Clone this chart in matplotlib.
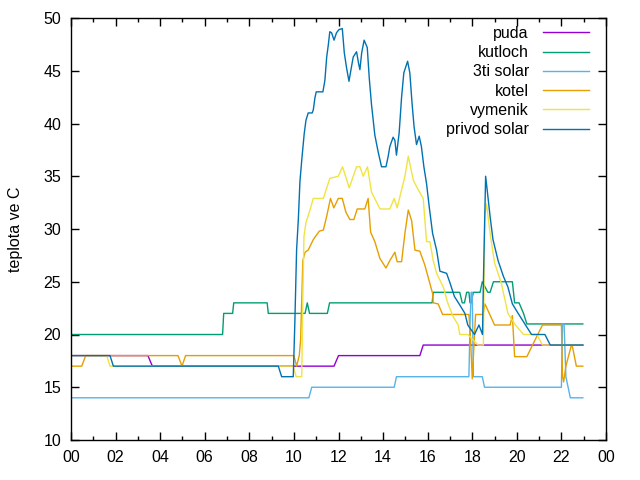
import matplotlib
matplotlib.use("Agg")
import matplotlib.pyplot as plt
from matplotlib.ticker import MultipleLocator, FuncFormatter

plt.rcParams['font.family'] = ['Liberation Sans', 'DejaVu Sans']

# cas v hodinach, teplota ve C
puda_t = [0, 3.45, 3.65, 11.8, 12.0, 15.65, 15.8, 22.96]
puda = [18, 18, 17, 17, 18, 18, 19, 19]

kutloch_t = [0, 6.8, 6.85, 7.25, 7.3, 8.8, 8.85, 10.5, 10.6, 10.7, 11.5, 11.6, 16.2, 16.25,
             17.44, 17.55, 17.65, 17.75, 17.85, 17.9, 17.95, 18.05, 18.35, 18.45, 18.7, 18.8,
             18.95, 19.8, 19.9, 20.1, 20.3, 20.45, 22.96]
kutloch = [20, 20, 22, 22, 23, 23, 22, 22, 23, 22, 22, 23, 23, 24,
           24, 23, 23, 24, 24, 23, 23, 24, 24, 25, 24, 24,
           25, 25, 23, 23, 22, 21, 21]

solar3_t = [0, 10.67, 10.8, 14.5, 14.6, 17.85, 17.9, 17.95, 18.0, 18.05, 18.45, 18.55,
            22.0, 22.05, 22.12, 22.2, 22.3, 22.4, 22.96]
solar3 = [14, 14, 15, 15, 16, 16, 21, 24, 24, 16, 16, 15,
          15, 21, 21, 16, 15, 14, 14]

kotel_t = [0, 0.48, 0.66, 4.8, 4.98, 5.14, 10.0, 10.12, 10.24, 10.3, 10.4, 10.5, 10.64,
           10.87, 11.14, 11.32, 11.47, 11.64, 11.79, 11.99, 12.17, 12.33, 12.51, 12.69,
           12.84, 13.18, 13.33, 13.44, 13.63, 13.86, 14.13, 14.3, 14.53, 14.63, 14.83,
           14.98, 15.13, 15.28, 15.43, 15.65, 15.87, 16.0, 16.22, 16.25, 16.47, 16.67,
           17.85, 17.92, 18.0, 18.15, 18.48, 18.57, 19.0, 19.7, 19.8, 19.9, 20.45, 20.75,
           21.15, 22.0, 22.05, 22.1, 22.2, 22.45, 22.5, 22.67, 22.96]
kotel = [17, 17, 18, 18, 17, 18, 18, 17, 18, 19.5, 27, 27.8, 28,
         29, 29.8, 29.9, 31.2, 32.9, 32, 32.9, 32.9, 31.6, 30.9, 30.9,
         31.9, 31.9, 32.9, 29.7, 28.8, 27.2, 26.3, 27, 27.8, 26.9, 26.9,
         29.6, 31.8, 30.8, 28, 27.9, 26.6, 25.6, 23.9, 23, 22.9, 21.9,
         21.9, 19.8, 15.8, 21.9, 21.9, 22.9, 20.9, 20.9, 21.8, 17.9, 17.9, 19.2,
         20.9, 20.9, 16, 15.5, 17, 19, 18.8, 17, 17]

vymenik_t = [0, 1.6, 1.75, 9.97, 10.1, 10.35, 10.4, 10.45, 10.54, 10.72, 10.87, 11.32,
             11.61, 11.99, 12.18, 12.48, 12.81, 12.96, 13.11, 13.3, 13.48, 13.86, 14.3,
             14.5, 14.63, 14.98, 15.13, 15.36, 15.58, 15.8, 15.95, 16.1, 16.25, 16.4,
             16.7, 16.9, 17.14, 17.37, 17.44, 17.8, 18.26, 18.5, 18.56, 18.64, 18.8,
             19.0, 19.3, 19.6, 19.9, 20.3, 20.9, 21.15, 22.96]
vymenik = [18, 18, 17, 17, 16, 16, 23.3, 29.3, 30.6, 31.8, 32.9, 32.9,
           34.8, 35, 35.9, 33.9, 35.9, 35.9, 35, 35.9, 33.5, 31.9, 31.9,
           32.9, 32, 35, 36.9, 34.6, 33.7, 32.9, 28.8, 28.8, 27, 25.8,
           24.5, 23, 21.7, 20.9, 20, 20, 19, 19, 31.2, 32.4, 29.6,
           26.8, 24.9, 22, 21, 20, 20, 19, 19]

privod_t = [0, 1.75, 1.9, 9.3, 9.45, 9.97, 10.04, 10.12, 10.2, 10.27, 10.35, 10.46, 10.54,
            10.64, 10.82, 10.87, 10.94, 11.0, 11.3, 11.39, 11.47, 11.54, 11.61, 11.69,
            11.8, 11.91, 12.02, 12.17, 12.26, 12.36, 12.47, 12.56, 12.66, 12.81, 12.9,
            12.96, 13.04, 13.15, 13.29, 13.38, 13.48, 13.63, 13.78, 13.93, 14.13, 14.23,
            14.3, 14.45, 14.53, 14.6, 14.72, 14.83, 14.93, 15.1, 15.2, 15.3, 15.39, 15.5,
            15.62, 15.72, 15.83, 15.95, 16.07, 16.22, 16.4, 16.55, 16.85, 17.0, 17.2,
            17.44, 17.67, 17.8, 18.1, 18.3, 18.46, 18.5, 18.6, 18.67, 18.8, 18.93, 19.16,
            19.4, 19.6, 19.8, 20.06, 20.36, 20.66, 21.26, 21.5, 22.96]
privod = [18, 18, 17, 17, 16, 16, 21, 28, 31, 34.5, 36.5, 39, 40.3,
          41, 41, 41.3, 42.4, 43, 43, 44.1, 46.3, 47.4, 48.7, 48.6,
          47.9, 48.6, 48.9, 49, 46.7, 45.3, 44, 45.1, 46.3, 46.8, 45.7,
          45.1, 46.7, 47.9, 47.2, 44.3, 41.8, 38.9, 37.3, 35.9, 35.9, 36.9,
          37.8, 38.7, 38.4, 37, 39.1, 42.5, 44.8, 45.9, 44.8, 41.9, 39.7, 38,
          38.8, 37.8, 35.9, 34.3, 32.1, 29.6, 28, 26, 25.8, 24.9, 23.6,
          22.8, 22, 20.9, 20, 20.9, 20, 25, 35, 33.7, 31.2, 29, 27,
          25.5, 24.5, 22.9, 22, 21, 20, 20, 19, 19]

series = [
    ('puda', puda_t, puda, '#9400d3'),
    ('kutloch', kutloch_t, kutloch, '#009e73'),
    ('3ti solar', solar3_t, solar3, '#56b4e9'),
    ('kotel', kotel_t, kotel, '#e69f00'),
    ('vymenik', vymenik_t, vymenik, '#f0e442'),
    ('privod solar', privod_t, privod, '#0072b2'),
]

fig = plt.figure(figsize=(6.4, 4.8), dpi=100)
ax = fig.add_axes([71 / 640, 40 / 480, 535 / 640, 422 / 480])

for name, t, v, col in series:
    ax.plot(t, v, color=col, lw=1.0, label=name)

ax.set_xlim(0, 24)
ax.set_ylim(10, 50)
ax.xaxis.set_major_locator(MultipleLocator(2))
ax.xaxis.set_minor_locator(MultipleLocator(1))
ax.yaxis.set_major_locator(MultipleLocator(5))
ax.xaxis.set_major_formatter(FuncFormatter(lambda x, pos: f'{int(round(x)) % 24:02d}'))
ax.tick_params(which='both', direction='in', top=True, right=True, labelsize=11.5, width=1)
ax.tick_params(which='major', length=6, pad=7)
ax.tick_params(which='minor', length=3)
for s in ax.spines.values():
    s.set_linewidth(1)
ax.set_ylabel('teplota ve C', fontsize=11.5, labelpad=15)

ax.legend(loc='upper right', frameon=False, markerfirst=False, fontsize=11.5,
          handlelength=2.9, handletextpad=0.9, labelspacing=0.27,
          borderaxespad=0.3, bbox_to_anchor=(0.99, 1.008))

fig.savefig('out.png', dpi=100)
